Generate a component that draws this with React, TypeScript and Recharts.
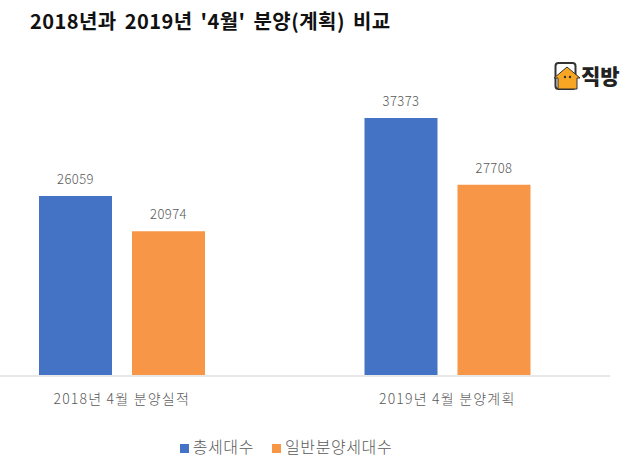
import React from 'react';
import { BarChart, Bar, XAxis, YAxis, LabelList, Legend } from 'recharts';

const categories = ['2018년 4월 분양실적', '2019년 4월 분양계획'];
const totalUnits = [26059, 37373];
const generalUnits = [20974, 27708];

const data = categories.map((name, i) => ({
  name,
  total: totalUnits[i],
  general: generalUnits[i],
}));

const FONT = '"Noto Sans CJK KR", "Noto Sans", sans-serif';
const GREY = '#595959';

const Logo = () => (
  <div style={{ position: 'absolute', left: 553, top: 60, width: 70, height: 32 }}>
    <svg width={30} height={32} style={{ position: 'absolute', left: 0, top: 0 }}>
      <rect x={2.5} y={3} width={20} height={26} rx={3} fill="#fff" stroke="#333" strokeWidth={2} />
      <path d="M1 18 L14 7 L27 18 L24 18 L24 29 L5 29 L5 18 Z" fill="#F6A623" stroke="#333" strokeWidth={1} />
      <circle cx={12} cy={17} r={1.2} fill="#333" />
      <circle cx={17} cy={17} r={1.2} fill="#333" />
    </svg>
    <span
      style={{
        position: 'absolute',
        left: 28,
        top: 0,
        fontFamily: FONT,
        fontWeight: 900,
        fontSize: 21,
        lineHeight: '30px',
        color: '#222',
      }}
    >
      직방
    </span>
  </div>
);

export default function App() {
  return (
    <div
      style={{
        position: 'absolute',
        left: 0,
        top: 0,
        width: 630,
        height: 462,
        overflow: 'hidden',
        background: '#fff',
        fontFamily: FONT,
      }}
    >
      <div
        style={{
          position: 'absolute',
          left: 30,
          top: 7,
          fontSize: 20,
          fontWeight: 700,
          lineHeight: '28px',
          letterSpacing: 0.45,
          wordSpacing: 3,
          color: '#111',
          whiteSpace: 'nowrap',
        }}
      >
        2018년과 2019년 '4월' 분양(계획) 비교
      </div>
      <Logo />
      <BarChart
        width={630}
        height={462}
        data={data}
        barSize={73}
        barGap={20}
        margin={{ top: 118, right: 20, bottom: 34, left: -41 }}
      >
        <XAxis
          dataKey="name"
          axisLine={{ stroke: '#e8e8e8', strokeWidth: 2 }}
          tickLine={false}
          tick={{ fill: GREY, fontSize: 14, fontFamily: FONT, fontWeight: 300, letterSpacing: 1.2 }}
          tickMargin={12}
          interval={0}
        />
        <YAxis hide domain={[0, 37373]} />
        <Legend
          layout="horizontal"
          verticalAlign="bottom"
          iconType="square"
          iconSize={9}
          height={22}
          itemSorter={null}
          wrapperStyle={{ left: 0, width: 590, bottom: 6, fontSize: 16, fontFamily: FONT, fontWeight: 300, letterSpacing: 0.6 }}
          formatter={(value) => <span style={{ color: GREY, marginRight: 8 }}>{value}</span>}
        />
        <Bar dataKey="total" name="총세대수" fill="#4472C4" isAnimationActive={false}>
          <LabelList dataKey="total" position="top" offset={12} fill={GREY} fontSize={13} fontWeight={300} fontFamily={FONT} letterSpacing={0.4} />
        </Bar>
        <Bar dataKey="general" name="일반분양세대수" fill="#F79646" isAnimationActive={false}>
          <LabelList dataKey="general" position="top" offset={12} fill={GREY} fontSize={13} fontWeight={300} fontFamily={FONT} letterSpacing={0.4} />
        </Bar>
      </BarChart>
    </div>
  );
}
